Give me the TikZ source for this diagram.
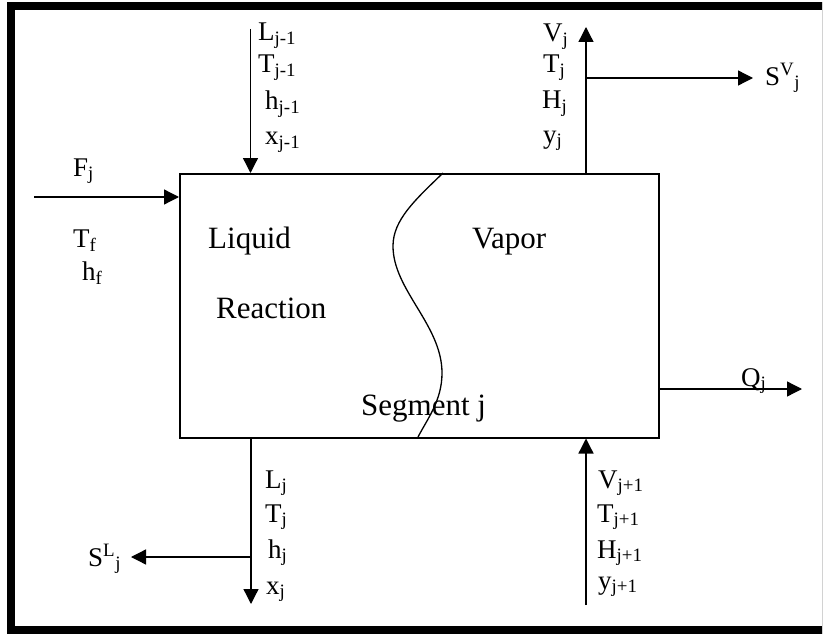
\documentclass[tikz,border=0pt]{standalone}
\usepackage{fontspec}
\setmainfont{Liberation Serif}
\usetikzlibrary{arrows.meta}
\begin{document}
\begin{tikzpicture}[x=1pt,y=-1pt,
  lbl/.style={anchor=base west,inner sep=0pt,font=\fontsize{27}{31}\selectfont},
  big/.style={anchor=base west,inner sep=0pt,font=\fontsize{31}{35}\selectfont},
  flow/.style={line width=1.3pt,-{Triangle[length=15pt,width=15pt]}},
  edge/.style={line width=1.3pt}]
\useasboundingbox (0,0) rectangle (823,634);
% frame
\fill[black] (7,2) rectangle (15,634);
\fill[black] (7,2) rectangle (823,10);
\fill[black] (7,626) rectangle (823,634);
\draw[gray!35,line width=0.8pt] (822,2) -- (822,634);
% segment box
\node[draw,line width=1.5pt,minimum width=479pt,minimum height=264pt,inner sep=0pt,anchor=north west] (box) at (179,173) {};
% interface curve
\draw[edge] (443,173) .. controls (415,200) and (393,220) .. (393,246)
  .. controls (393,290) and (442,325) .. (442,373)
  .. controls (442,400) and (428,418) .. (418,437);
% connectors
\coordinate (Lin) at (250.5,29);
\draw[flow] (Lin) -- (Lin |- box.north);
\coordinate (Vout) at (586,27);
\draw[flow] (Vout |- box.north) -- (Vout);
\coordinate (SVbr) at (586,78);
\coordinate (SVtip) at (753,78);
\draw[flow] (SVbr) -- (SVtip);
\coordinate (Fin) at (34,197);
\draw[flow] (Fin) -- (Fin -| box.west);
\coordinate (Qtip) at (802,389);
\draw[flow] (Qtip -| box.east) -- (Qtip);
\coordinate (Lout) at (251,604);
\draw[flow] (Lout |- box.south) -- (Lout);
\coordinate (SLbr) at (251,557);
\coordinate (SLtip) at (131,557);
\draw[flow] (SLbr) -- (SLtip);
\coordinate (Vin) at (586,605);
\draw[flow] (Vin) -- (Vin |- box.south);
% labels
\node[lbl] (L1) at (258,41) {L\textsubscript{j-1}};
\node[lbl] (T1) at (258,73) {T\textsubscript{j-1}};
\node[lbl] (h1) at (265,110) {h\textsubscript{j-1}};
\node[lbl] (x1) at (265,145) {x\textsubscript{j-1}};
\node[lbl] (V0) at (543,42) {V\textsubscript{j}};
\node[lbl] (T0) at (543,73) {T\textsubscript{j}};
\node[lbl] (H0) at (542,109) {H\textsubscript{j}};
\node[lbl] (y0) at (543,143) {y\textsubscript{j}};
\node[lbl] (SV) at (765,85) {S\textsuperscript{V}\textsubscript{j}};
\node[lbl] (F) at (73,176) {F\textsubscript{j}};
\node[lbl] (Tf) at (73,247) {T\textsubscript{f}};
\node[lbl] (hf) at (82,280) {h\textsubscript{f}};
\node[big] (liq) at (208,248) {Liquid};
\node[big] (vap) at (472,248) {Vapor};
\node[big] (rea) at (216,318) {Reaction};
\node[big] (seg) at (361,415) {Segment j};
\node[lbl] (Q) at (741,386) {Q\textsubscript{j}};
\node[lbl] (Lj) at (265,488) {L\textsubscript{j}};
\node[lbl] (Tj) at (265,522) {T\textsubscript{j}};
\node[lbl] (hj) at (268,558) {h\textsubscript{j}};
\node[lbl] (xj) at (266,594) {x\textsubscript{j}};
\node[lbl] (SL) at (88,566) {S\textsuperscript{L}\textsubscript{j}};
\node[lbl] (V2) at (598,488) {V\textsubscript{j+1}};
\node[lbl] (T2) at (597,522) {T\textsubscript{j+1}};
\node[lbl] (H2) at (597,558) {H\textsubscript{j+1}};
\node[lbl] (y2) at (598,589) {y\textsubscript{j+1}};
\end{tikzpicture}
\end{document}
